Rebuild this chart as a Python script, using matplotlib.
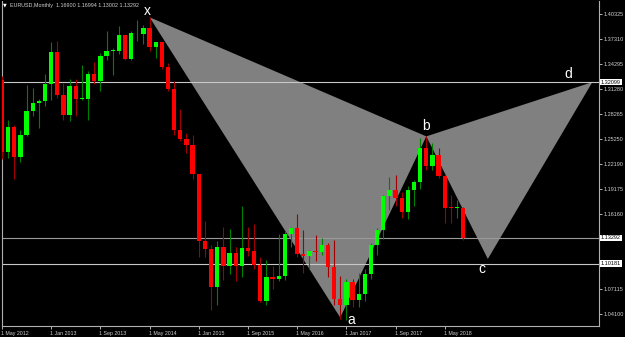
import matplotlib
matplotlib.use("Agg")
import matplotlib.pyplot as plt
import matplotlib.transforms as mtransforms

plt.rcParams['font.family'] = ['Liberation Sans', 'DejaVu Sans']

# EURUSD monthly candles, May 2012 .. Aug 2018
opens = [1.3235, 1.2365, 1.2666, 1.2307, 1.2577, 1.2858, 1.2959, 1.2984,
         1.3192, 1.3579, 1.3056, 1.2818, 1.3167, 1.3002, 1.3010, 1.3303, 1.3223, 1.3525, 1.3583, 1.3590,
         1.3774, 1.3486, 1.3785, 1.3795, 1.3869, 1.3636, 1.3692, 1.3390, 1.3131, 1.2628, 1.2525, 1.2450,
         1.2100, 1.1290, 1.1195, 1.0731, 1.1225, 1.0985, 1.1150, 1.0985, 1.1210, 1.1175, 1.1005, 1.0565,
         1.0860, 1.0830, 1.0870, 1.1380, 1.1450, 1.1130, 1.1105, 1.1175, 1.1155, 1.1240, 1.0980, 1.0590,
         1.0520, 1.0800, 1.0575, 1.0650, 1.0895, 1.1240, 1.1425, 1.1840, 1.1905, 1.1815, 1.1645, 1.1905,
         1.2005, 1.2415, 1.2195, 1.2325, 1.2075, 1.1690, 1.1685, 1.1690]
highs = [1.3283, 1.2747, 1.2692, 1.2636, 1.3172, 1.3140, 1.3010, 1.3308,
         1.3697, 1.3711, 1.3200, 1.3243, 1.3242, 1.3416, 1.3345, 1.3452, 1.3567, 1.3832, 1.3620, 1.3893,
         1.3775, 1.3825, 1.3966, 1.3905, 1.3993, 1.3700, 1.3700, 1.3444, 1.3222, 1.2887, 1.2600, 1.2570,
         1.2105, 1.1534, 1.1240, 1.1290, 1.1466, 1.1436, 1.1216, 1.1714, 1.1460, 1.1495, 1.1096, 1.1060,
         1.0990, 1.1376, 1.1410, 1.1460, 1.1616, 1.1428, 1.1185, 1.1365, 1.1328, 1.1265, 1.1300, 1.0875,
         1.0830, 1.0830, 1.0906, 1.0950, 1.1268, 1.1446, 1.1845, 1.2070, 1.2092, 1.1880, 1.1961, 1.2023,
         1.2537, 1.2555, 1.2476, 1.2414, 1.2097, 1.1853, 1.1791, 1.1699]
lows = [1.2286, 1.2288, 1.2042, 1.2240, 1.2560, 1.2803, 1.2661, 1.2926,
        1.3000, 1.3020, 1.2750, 1.2746, 1.2795, 1.3000, 1.2755, 1.3184, 1.3105, 1.3480, 1.3295, 1.3545,
        1.3475, 1.3477, 1.3705, 1.3673, 1.3588, 1.3503, 1.3367, 1.3105, 1.2570, 1.2500, 1.2358, 1.2035,
        1.1098, 1.1100, 1.0458, 1.0520, 1.0818, 1.0889, 1.0808, 1.0862, 1.1105, 1.0950, 1.0558, 1.0523,
        1.0710, 1.0810, 1.0820, 1.1215, 1.1100, 1.0911, 1.0950, 1.1045, 1.1122, 1.0852, 1.0520, 1.0352,
        1.0340, 1.0495, 1.0495, 1.0570, 1.0839, 1.1118, 1.1312, 1.1661, 1.1717, 1.1574, 1.1554, 1.1717,
        1.1916, 1.2153, 1.2155, 1.2055, 1.1510, 1.1509, 1.1575, 1.1300]
closes = [1.2365, 1.2666, 1.2307, 1.2577, 1.2858, 1.2959, 1.2984, 1.3192,
          1.3579, 1.3056, 1.2818, 1.3167, 1.3002, 1.3010, 1.3303, 1.3223, 1.3525, 1.3583, 1.3590, 1.3774,
          1.3486, 1.3801, 1.3795, 1.3869, 1.3636, 1.3692, 1.3390, 1.3131, 1.2628, 1.2525, 1.2450, 1.2100,
          1.1290, 1.1195, 1.0731, 1.1225, 1.0985, 1.1150, 1.0985, 1.1210, 1.1175, 1.1005, 1.0565, 1.0860,
          1.0830, 1.0870, 1.1380, 1.1450, 1.1130, 1.1105, 1.1175, 1.1155, 1.1240, 1.0980, 1.0590, 1.0520,
          1.0800, 1.0575, 1.0650, 1.0895, 1.1240, 1.1425, 1.1840, 1.1905, 1.1815, 1.1645, 1.1905, 1.2005,
          1.2415, 1.2195, 1.2325, 1.2075, 1.1690, 1.1685, 1.1690, 1.1329]

date_labels = ["1 May 2012", "1 Jan 2013", "1 Sep 2013", "1 May 2014", "1 Jan 2015",
               "1 Sep 2015", "1 May 2016", "1 Jan 2017", "1 Sep 2017", "1 May 2018"]
date_step = 8  # months between date labels

price_ticks = [1.40325, 1.37310, 1.34295, 1.31280, 1.28265, 1.25250, 1.22190,
               1.19175, 1.16160, 1.07115, 1.04100]

# horizontal lines: (price, colour)
levels = [1.32099, 1.13292, 1.10181]
level_colors = ["#c8c8c8", "#9a9a9a", "#c8c8c8"]

# XABCD pattern points: bar index, price
pattern_names = ["x", "a", "b", "c", "d"]
pattern_bars = [24, 55, 69, 79, 96]
pattern_prices = [1.3993, 1.0368, 1.2555, 1.1075, 1.3210]
label_offsets = [(-2, 6), (11, -2), (0, 10), (-6, -10), (-24, 8)]  # pixels

header = "EURUSD,Monthly  1.16900 1.16994 1.13002 1.13292"


def main():
    fig = plt.figure(figsize=(6.25, 3.37), dpi=100, facecolor="black")
    ax = fig.add_axes([2 / 625, 11 / 337, 597 / 625, 325 / 337])
    ax.set_facecolor("black")
    ax.set_xlim(0.16, 97.08)
    ax.set_ylim(1.02657, 1.41894)

    # pattern triangles (X-A-B and B-C-D)
    ax.fill(pattern_bars[0:3], pattern_prices[0:3], color="#808080", lw=0, zorder=1)
    ax.fill(pattern_bars[2:5], pattern_prices[2:5], color="#808080", lw=0, zorder=1)

    for lvl, col in zip(levels, level_colors):
        ax.axhline(lvl, color=col, lw=0.8, zorder=2)

    # candles
    for i in range(len(opens)):
        o, h, l, c = opens[i], highs[i], lows[i], closes[i]
        up = c >= o
        body_col = "#00ff00" if up else "#ff0000"
        wick_col = "#008000" if up else "#a00000"
        ax.vlines(i, l, h, color=wick_col, lw=0.8, zorder=3)
        bottom = min(o, c)
        height = max(abs(c - o), 0.0012)
        ax.bar(i, height, bottom=bottom, width=0.7, color=body_col, lw=0, zorder=4)

    # pattern labels
    for name, b, p, off in zip(pattern_names, pattern_bars, pattern_prices, label_offsets):
        ax.annotate(name, (b, p), xytext=off, textcoords="offset pixels",
                    ha="center", va="center", color="white", fontsize=10,
                    annotation_clip=False, zorder=6)

    # axes styling
    for side in ["left", "bottom", "right"]:
        ax.spines[side].set_color("#b0b0b0")
        ax.spines[side].set_linewidth(0.8)
    ax.spines["top"].set_visible(False)

    ax.yaxis.tick_right()
    ax.set_yticks(price_ticks)
    ax.set_yticklabels(["%.5f" % v for v in price_ticks])
    ax.tick_params(axis="y", colors="#d0d0d0", labelsize=4, length=2, width=0.6, pad=1)

    xt = [k * date_step for k in range(len(date_labels))]
    ax.set_xticks(xt)
    ax.set_xticklabels(date_labels, ha="left")
    ax.tick_params(axis="x", colors="#d0d0d0", labelsize=3.8, length=2.5, width=0.6, pad=1)
    for lab in ax.get_xticklabels():
        lab.set_x(lab.get_position()[0])
    offset = mtransforms.ScaledTranslation(-1 / 100, 0, fig.dpi_scale_trans)
    for lab in ax.get_xticklabels():
        lab.set_transform(lab.get_transform() + offset)

    # highlighted price labels on the right scale
    trans = mtransforms.blended_transform_factory(ax.transAxes, ax.transData)
    for lvl in levels:
        ax.text(1.0 + 2 / 597, lvl, "%.5f" % lvl, transform=trans, ha="left", va="center",
                fontsize=4, color="black", zorder=7, clip_on=False,
                bbox=dict(boxstyle="square,pad=0.15", fc="white", ec="none"))

    # header
    fig.text(3 / 625, 1 - 5 / 337, "\u25bc", fontsize=3.5, color="white", va="center",
             family="DejaVu Sans")
    fig.text(10 / 625, 1 - 5 / 337, header, fontsize=3.9, color="#d0d0d0", va="center")

    fig.savefig("out.png", dpi=100, facecolor="black")


if __name__ == "__main__":
    main()
